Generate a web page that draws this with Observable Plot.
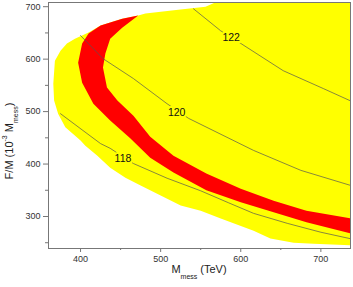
<!DOCTYPE html>
<html><head><meta charset="utf-8">
<script src="https://cdn.jsdelivr.net/npm/d3@7"></script>
<script src="https://cdn.jsdelivr.net/npm/@observablehq/plot@0.6"></script>
<style>body{margin:0;background:#fff;font-family:Arial,"Liberation Sans",sans-serif}#chart svg{display:block}</style>
</head><body><div id="chart"></div>
<script>
// Allowed (yellow) region outline: M_mess (TeV) vs F/M (10^-3 M_mess)
const regionX = [568,742,742,737,691,666,637,616,575,550,525,500,475,456,437,421,406,400,381,372,367,366,368,375,383,393,410,425,437,452,472,481,522,556,568];
const regionY = [712,712,245,245,248,250,258,273,296,311,321,340,359,374,393,416,435,445,470,496,521,553,597,616,630,639,651,664,670,677,683,687,694,700,708];
// Red band (top cap, outer edge, then inner edge back up)
const redX = [425,437,452,472,452,437,431,428,433,446,466,487,516,557,600,641,682,742,742,682,641,600,557,516,487,462,437,416,402,397,402,410];
const redY = [664,670,677,683,660,639,611,584,546,521,492,452,416,382,353,330,311,295,266,289,308,327,350,384,412,449,483,515,555,593,630,649];
// Contour lines
const c118X = [375,403,425,437,466,508,550,585,616,658,700,742];
const c118Y = [496,464,439,430,401,373,349,326,306,287,270,256];
const c120X = [400,428,466,508,535,616,675,742];
const c120Y = [645,601,563,515,487,426,388,357];
const c122X = [541,575,600,653,703,742];
const c122Y = [696,654,630,578,544,517];
// Contour labels
const labelText = ["118","120","122"];
const labelX = [453,520,588];
const labelY = [410,498,641];
// Axis ticks
const xTicks = [400,500,600,700];
const xMinor = [450,550,650];
const yTicks = [300,400,500,600,700];
const yMinor = [250,350,450,550,650];

const pts = (xs, ys) => xs.map((x, i) => ({x, y: ys[i]}));
const labels = labelText.map((t, i) => ({t, x: labelX[i], y: labelY[i]}));
const lineStyle = {x: "x", y: "y", stroke: "#555", strokeWidth: 0.7, clip: true};

const chart = Plot.plot({
  width: 353, height: 287,
  marginLeft: 48, marginRight: 3, marginTop: 2, marginBottom: 39,
  x: {domain: [360, 737], label: null},
  y: {domain: [239, 708], label: null},
  style: {fontFamily: "Arial, 'Liberation Sans', sans-serif", background: "white", color: "#333"},
  marks: [
    Plot.line(pts(regionX, regionY), {x: "x", y: "y", fill: "#ffff00", stroke: "none", clip: true}),
    Plot.line(pts(redX, redY), {x: "x", y: "y", fill: "#ff0000", stroke: "none", clip: true}),
    Plot.line(pts(c118X, c118Y), lineStyle),
    Plot.line(pts(c120X, c120Y), lineStyle),
    Plot.line(pts(c122X, c122Y), lineStyle),
    Plot.text(labels, {x: "x", y: "y", text: "t", fontSize: 10.5, fill: "#111", stroke: "#ffff00", strokeWidth: 4, paintOrder: "stroke"}),
    Plot.frame({stroke: "#777"}),
    Plot.axisX({ticks: xTicks, tickSize: 4, tickPadding: 3, fontSize: 9, stroke: "#777", fill: "#333", label: null}),
    Plot.axisX({ticks: xMinor, tickSize: 2, text: null, stroke: "#777", label: null}),
    Plot.axisY({ticks: yTicks, tickSize: 5, tickPadding: 3, fontSize: 9, stroke: "#777", fill: "#333", label: null}),
    Plot.axisY({ticks: yMinor, tickSize: 3, text: null, stroke: "#777", label: null})
  ]
});
document.getElementById("chart").append(chart);

const svg = d3.select(chart);
const xl = svg.append("text").attr("x", 199).attr("y", 273).attr("text-anchor", "middle")
  .attr("font-size", 11).attr("fill", "#222").attr("font-family", "Arial, 'Liberation Sans', sans-serif");
xl.append("tspan").text("M");
xl.append("tspan").attr("font-size", 7).attr("dy", 6).text("mess");
xl.append("tspan").attr("dy", -6).text(" (TeV)");

const yl = svg.append("text").attr("transform", "translate(13,141) rotate(-90)").attr("text-anchor", "middle")
  .attr("font-size", 11).attr("fill", "#222").attr("font-family", "Arial, 'Liberation Sans', sans-serif");
yl.append("tspan").text("F/M (10");
yl.append("tspan").attr("font-size", 7).attr("dy", -6).text("-3");
yl.append("tspan").attr("dy", 6).text(" M");
yl.append("tspan").attr("font-size", 7).attr("dy", 5).text("mess");
yl.append("tspan").attr("dy", -5).text(")");
</script>
</body></html>
